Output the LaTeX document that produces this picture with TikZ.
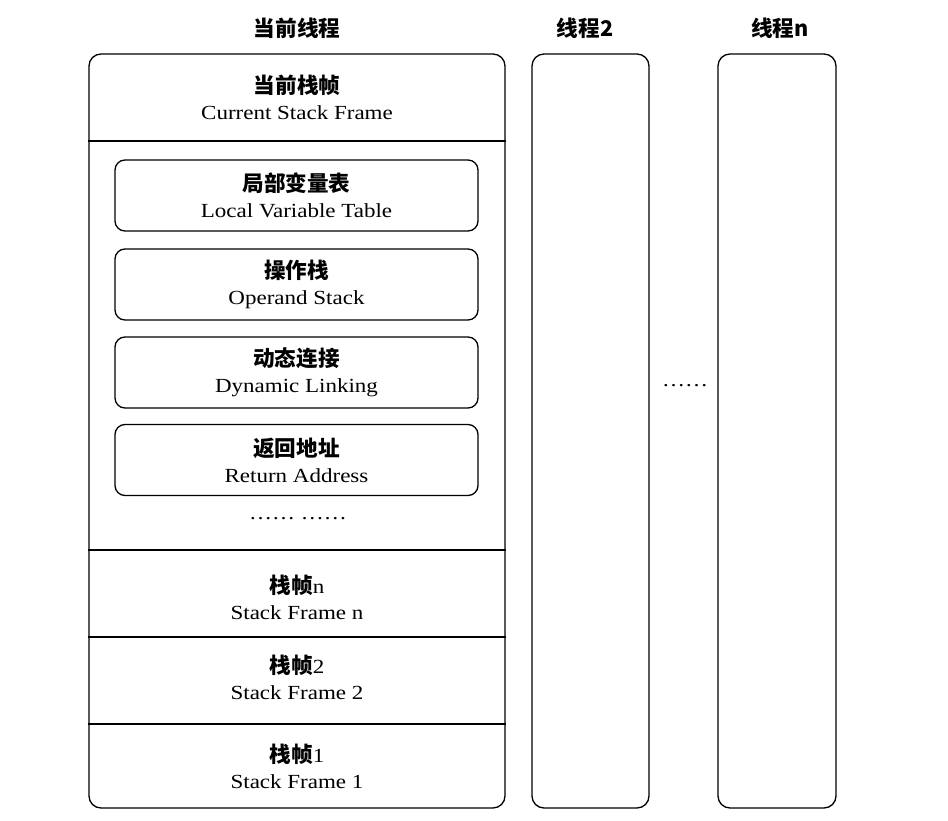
\documentclass[tikz,border=0pt]{standalone}
\usepackage{fontspec}
\setmainfont{Liberation Serif}[FakeStretch=1.15]
\newfontfamily\cjk{Noto Sans CJK SC}[Scale=1.08]
\usetikzlibrary{positioning}
\tikzset{
  thread/.style={draw, line width=1.3pt, rounded corners=12pt, minimum height=754pt, inner sep=0pt},
  slot/.style={draw, line width=1.3pt, rounded corners=10pt, minimum width=363pt, minimum height=71pt, align=center, inner sep=0pt},
  caption/.style={align=center, inner sep=0pt},
  title/.style={inner sep=0pt, font=\fontsize{20}{26}\selectfont\cjk\bfseries},
  divider/.style={line width=1.3pt}
}
\begin{document}
\begin{tikzpicture}[x=1pt, y=-1pt, font=\fontsize{20}{26}\selectfont]
  \useasboundingbox (0,0) rectangle (948,821);
  % threads
  \node[thread, minimum width=416pt] (cur) at (297,431) {};
  \node[thread, minimum width=117pt] (th2) at (590.5,431) {};
  \node[thread, minimum width=118pt] (thn) at (777,431) {};
  \node[title] (curtitle) at (297,28) {当前线程};
  \node[title] (th2title) at (585,28) {线程2};
  \node[title] (thntitle) at (780,28) {线程n};
  \node[caption] (gap) at (685,386) {……};
  % current frame
  \node[caption] (frame) at (297,97) {{\cjk\bfseries 当前栈帧}\\Current Stack Frame};
  \draw[divider] (cur.west |- 0,141) -- (cur.east |- 0,141);
  \node[slot] (locals) at (296.5,195.5) {{\cjk\bfseries 局部变量表}\\Local Variable Table};
  \node[slot] (operand) at (296.5,284.5) {{\cjk\bfseries 操作栈}\\Operand Stack};
  \node[slot] (linking) at (296.5,372.5) {{\cjk\bfseries 动态连接}\\Dynamic Linking};
  \node[slot] (retaddr) at (296.5,460) {{\cjk\bfseries 返回地址}\\Return Address};
  \node[caption] (more) at (298,519) {……\hspace{6pt}……};
  % older frames
  \draw[divider] (cur.west |- 0,550) -- (cur.east |- 0,550);
  \node[caption] (framen) at (297,597.5) {{\cjk\bfseries 栈帧}n\\Stack Frame n};
  \draw[divider] (cur.west |- 0,637) -- (cur.east |- 0,637);
  \node[caption] (frame2) at (297,677) {{\cjk\bfseries 栈帧}2\\Stack Frame 2};
  \draw[divider] (cur.west |- 0,724) -- (cur.east |- 0,724);
  \node[caption] (frame1) at (297,766) {{\cjk\bfseries 栈帧}1\\Stack Frame 1};
\end{tikzpicture}
\end{document}
